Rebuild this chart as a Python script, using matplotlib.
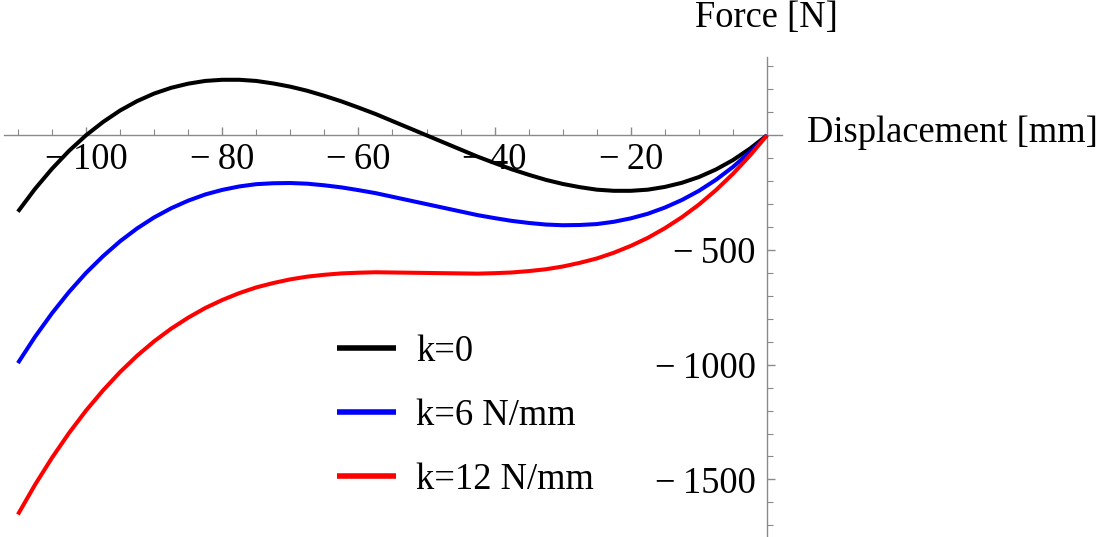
import matplotlib
matplotlib.use("Agg")
import matplotlib.pyplot as plt
from matplotlib.ticker import FixedLocator

# Displacement [mm]
displacement = [-110, -107.5, -105, -102.5, -100, -97.5, -95, -92.5, -90, -87.5,
                -85, -82.5, -80, -77.5, -75, -72.5, -70, -67.5, -65, -62.5,
                -60, -57.5, -55, -52.5, -50, -47.5, -45, -42.5, -40, -37.5,
                -35, -32.5, -30, -27.5, -25, -22.5, -20, -17.5, -15, -12.5,
                -10, -7.5, -5, -2.5, 0]
# Force [N]
force_k0 = [-333, -234, -146, -68, 0, 58, 108, 149, 182, 207,
            225, 237, 242, 242, 237, 226, 212, 194, 172, 148,
            121, 93, 62, 31, 0, -31, -62, -93, -121, -148,
            -172, -194, -212, -226, -237, -242, -242, -237, -225, -207,
            -182, -149, -108, -58, 0]
force_k6 = [-993, -879, -776, -683, -600, -527, -462, -406, -358, -318,
            -285, -258, -238, -223, -213, -209, -208, -211, -218, -227,
            -239, -252, -268, -284, -300, -316, -332, -348, -361, -373,
            -382, -389, -392, -391, -387, -377, -362, -342, -315, -282,
            -242, -194, -138, -73, 0]
force_k12 = [-1653, -1524, -1406, -1298, -1200, -1112, -1032, -961, -898, -843,
             -795, -753, -718, -688, -663, -644, -628, -616, -608, -602,
             -599, -597, -598, -599, -600, -601, -602, -603, -601, -598,
             -592, -584, -572, -556, -537, -512, -482, -447, -405, -357,
             -302, -239, -168, -88, 0]

series_labels = ["k=0", "k=6 N/mm", "k=12 N/mm"]
series_colors = ["black", "#0000ff", "#ff0000"]

x_major = [-100, -80, -60, -40, -20]
x_minor = [-110, -105, -95, -90, -85, -75, -70, -65, -55, -50, -45,
           -35, -30, -25, -15, -10, -5]
y_major = [-500, -1000, -1500]
y_minor = [300, 200, 100, -100, -200, -300, -400, -600, -700, -800, -900,
           -1100, -1200, -1300, -1400, -1600, -1700]

plt.rcParams['font.family'] = ['Liberation Serif', 'DejaVu Serif']
FS = 26.3

fig = plt.figure(figsize=(11.02, 5.37), dpi=100)
ax = fig.add_axes([0, 0, 1, 1])
ax.set_facecolor('none')

for ys, lab, col in zip([force_k0, force_k6, force_k12], series_labels, series_colors):
    ax.plot(displacement, ys, color=col, lw=2.9, label=lab,
            solid_capstyle='butt', solid_joinstyle='round', zorder=3)

ax.set_xlim(-112.63, 49.19)
ax.set_ylim(-1751.1, 589.8)

for s in ['top', 'right']:
    ax.spines[s].set_visible(False)
ax.spines['left'].set_position(('data', 0))
ax.spines['bottom'].set_position(('data', 0))
ax.spines['left'].set_bounds(-1751, 343)
ax.spines['bottom'].set_bounds(-112.1, 2.2)
gray = '#8a8a8a'
for s in ['left', 'bottom']:
    ax.spines[s].set_color(gray)
    ax.spines[s].set_linewidth(1.0)

def fmt(v):
    return ("\u2212\u2009" + str(abs(v))) if v < 0 else str(v)

ax.xaxis.set_major_locator(FixedLocator(x_major))
ax.xaxis.set_minor_locator(FixedLocator(x_minor))
ax.set_xticklabels([fmt(v) for v in x_major])
ax.yaxis.set_major_locator(FixedLocator(y_major))
ax.yaxis.set_minor_locator(FixedLocator(y_minor))
ax.set_yticklabels([fmt(v) for v in y_major])

ax.tick_params(axis='x', which='major', direction='in', length=6, width=1, color=gray,
               labelsize=FS, pad=5)
ax.tick_params(axis='x', which='minor', direction='in', length=4, width=0.8, color=gray)
ax.tick_params(axis='y', which='major', direction='in', length=6, width=1, color=gray,
               labelsize=FS, pad=8)
ax.tick_params(axis='y', which='minor', direction='in', length=4, width=0.8, color=gray)

fig.text(807 / 1102, 1 - 133 / 537, "Displacement [mm]", fontsize=FS, ha='left', va='center')
fig.text(695 / 1102, 1 - 18 / 537, "Force [N]", fontsize=FS, ha='left', va='center')

leg = ax.legend(loc='upper left', bbox_to_anchor=(337 / 1102, 1 - 334.5 / 537),
                bbox_transform=fig.transFigure, frameon=False, fontsize=FS,
                handlelength=1.62, handletextpad=0.54, labelspacing=0.81, borderpad=0,
                borderaxespad=0)
for h in leg.get_lines():
    h.set_linewidth(4)

fig.savefig("out.png", dpi=100)
